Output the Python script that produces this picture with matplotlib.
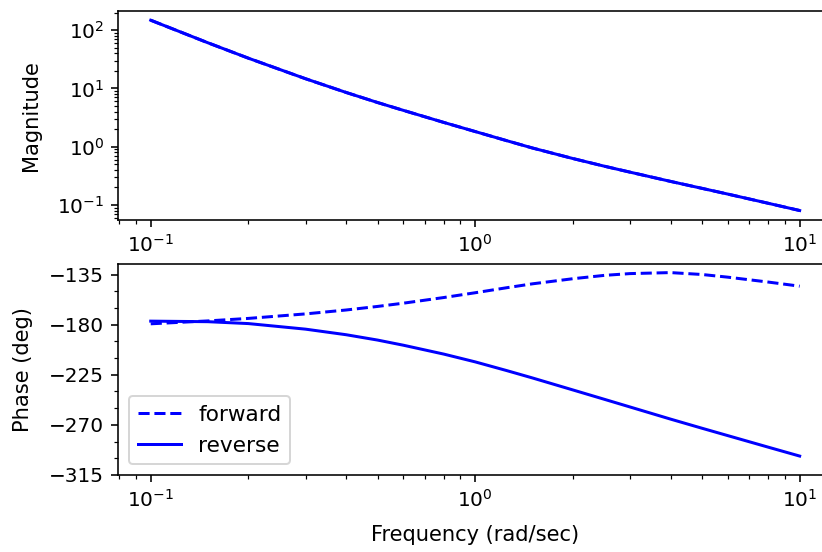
#!/usr/bin/env python3
# -*- coding: utf-8 -*-

import matplotlib
matplotlib.use('Agg')
import matplotlib.pyplot as plt
import numpy as np


# frequency grid (rad/sec)
freq = [0.1, 0.15, 0.2, 0.3, 0.4, 0.5, 0.6, 0.8, 1.0, 1.25, 1.5, 2.0, 2.5, 3.0, 4.0, 5.0, 6.0, 8.0, 10.0]

# magnitude is the same for both directions
mag = [147.9, 60.7, 33.0, 14.66, 8.53, 5.73, 4.21, 2.61, 1.82, 1.27, 0.951, 0.627, 0.463,
       0.366, 0.254, 0.193, 0.154, 0.107, 0.0804]

# phase in degrees
phase_forward = [-179.2, -176.6, -174.35, -170.3, -166.8, -163.6, -160.7, -155.6, -151.3, -146.8,
                 -143.3, -138.7, -135.7, -134.1, -133.2, -134.9, -137.3, -141.7, -145.4]
phase_reverse = [-176.8, -177.3, -179.0, -184.0, -189.0, -193.8, -198.4, -206.4, -213.4, -221.2,
                 -227.8, -238.6, -247.0, -253.9, -264.8, -273.0, -279.6, -290.0, -298.0]


def main():
    fig = plt.figure(figsize=(822 / 144, 552 / 144), dpi=144)

    # axes run a little past the right edge of the canvas
    ax_mag = fig.add_axes([0.1439, 0.6014, 0.8684, 0.3792])
    ax_ph = fig.add_axes([0.1439, 0.1395, 0.8684, 0.3822])

    ax_mag.loglog(freq, mag, 'b--')
    ax_mag.loglog(freq, mag, 'b-')
    ax_mag.set_xlim(10 ** -1.1, 10 ** 1.1)
    ax_mag.set_ylabel('Magnitude', fontsize=10.5, labelpad=8)

    ax_ph.semilogx(freq, phase_forward, 'b--', label='forward')
    ax_ph.semilogx(freq, phase_reverse, 'b-', label='reverse')
    ax_ph.set_xlim(10 ** -1.1, 10 ** 1.1)
    ax_ph.set_ylim(-315, -125.5)
    ax_ph.set_yticks(np.arange(-315, -134, 45))
    ax_ph.set_yticks(np.arange(-315, -125, 15), minor=True)
    ax_ph.set_ylabel('Phase (deg)', fontsize=10.5, labelpad=8)
    ax_ph.set_xlabel('Frequency (rad/sec)', fontsize=10.5, labelpad=7)
    ax_ph.legend(loc='lower left', fontsize=10.8)

    plt.savefig('out.png', dpi=144)


if __name__ == '__main__':
    main()
